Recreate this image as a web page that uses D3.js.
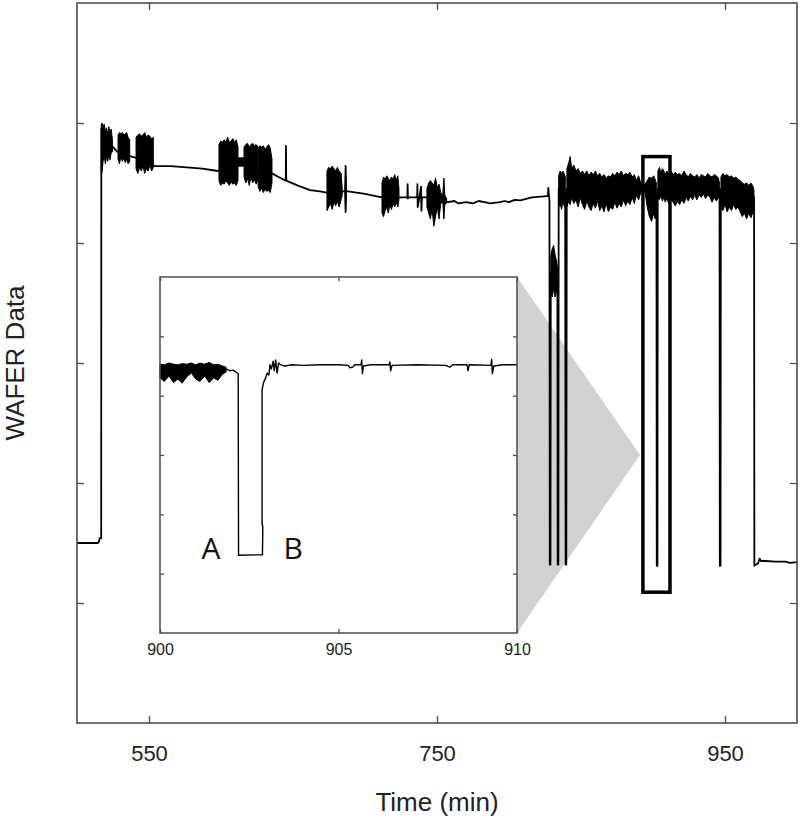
<!DOCTYPE html>
<html>
<head>
<meta charset="utf-8">
<script src="https://cdn.jsdelivr.net/npm/d3@7"></script>
<style>
body { margin: 0; background: #fff; }
svg { display: block; font-family: "Liberation Sans", Arial, sans-serif; }
</style>
</head>
<body>
<div id="main"></div>
<script>
// ---- data (time in min, wafer signal in axis units) ----
var xTicks = [550, 750, 950];
var yTicks = [1, 2, 3, 4, 5];
var insetXTicks = [900, 905, 910];
var insetYTicks = [1, 2, 3, 4, 5];

// slow baseline of the main run, with the drop-outs
var mainTrace = [
  [500, 1.50], [514.5, 1.50], [515.2, 1.51], [515.8, 1.54], [516.8, 1.54], [516.9, 4.95],
  [517.5, 4.75], [519, 4.8], [521, 4.78], [523, 4.82], [524.3, 4.81], [528, 4.76],
  [534.7, 4.73], [541, 4.71], [548, 4.68], [554.2, 4.64], [565, 4.64], [576.2, 4.63],
  [587, 4.62], [597.9, 4.60], [605, 4.66], [613.2, 4.68], [617, 4.67], [625, 4.62],
  [635.4, 4.58], [640, 4.55], [645, 4.52], [645.1, 4.81], [645.3, 4.52], [653, 4.48],
  [661.8, 4.44], [668.7, 4.43], [673.4, 4.42], [680, 4.43], [688.2, 4.43], [700, 4.41],
  [711.6, 4.38], [718, 4.38], [724, 4.38], [729.4, 4.38], [729.6, 4.49], [729.8, 4.37],
  [730, 4.38], [736.2, 4.38], [736.4, 4.49], [736.6, 4.30], [737.5, 4.36], [738.9, 4.47],
  [739.2, 4.27], [739.5, 4.38], [743, 4.38], [750, 4.37], [757.6, 4.34], [762, 4.35],
  [765, 4.33], [770, 4.34], [775, 4.33], [779, 4.35], [783, 4.34], [787, 4.33],
  [793.7, 4.34], [797, 4.35], [800, 4.34], [804, 4.36], [808, 4.355], [812.5, 4.37],
  [816, 4.38], [820, 4.385], [826.4, 4.39], [827.0, 4.39], [827.3, 4.46], [827.7, 4.40],
  [828.1, 4.36], [828.3, 1.32], [828.8, 1.32], [829.0, 3.75], [830, 3.7], [831.5, 3.75],
  [833.2, 3.7], [833.6, 3.65], [833.8, 1.32], [834.3, 1.32], [834.5, 4.45], [836.5, 4.45],
  [839.0, 4.42], [839.3, 1.32], [839.8, 1.32], [840.1, 4.45], [860, 4.45], [880, 4.45],
  [902.4, 4.42], [902.6, 1.31], [903.1, 1.31], [903.3, 4.45], [925, 4.46], [946.2, 4.44],
  [946.4, 1.31], [946.9, 1.31], [947.1, 4.45], [960, 4.42], [970.2, 4.38], [970.4, 1.31],
  [971.5, 1.32], [973, 1.33], [974, 1.37], [975, 1.35], [978, 1.35], [985, 1.345],
  [992, 1.345], [995, 1.335], [1000, 1.34]
];

// noisy bursts of the main run: [time, low, high]
var mainBursts = [
  [[516.8, 4.6, 4.98], [517.4, 4.59, 5.0], [518.1, 4.68, 4.97], [518.9, 4.72, 4.99], [519.7, 4.66, 4.93],
   [520.5, 4.72, 4.96], [521.3, 4.68, 4.9], [522.1, 4.74, 4.97], [522.9, 4.69, 4.91], [523.7, 4.75, 4.95], [524.6, 4.76, 4.86]],
  [[528.5, 4.7, 4.9], [529.5, 4.66, 4.92], [530.5, 4.72, 4.91], [531.5, 4.68, 4.92], [532.5, 4.71, 4.9],
   [533.5, 4.67, 4.91], [534.5, 4.7, 4.92], [535.5, 4.66, 4.88], [536.6, 4.68, 4.86]],
  [[541, 4.62, 4.88], [542.2, 4.58, 4.9], [543.4, 4.63, 4.91], [544.6, 4.6, 4.89], [545.8, 4.64, 4.9],
   [547, 4.58, 4.92], [548.2, 4.62, 4.88], [549.4, 4.6, 4.9], [550.6, 4.65, 4.89], [551.8, 4.6, 4.87], [553, 4.63, 4.88]],
  [[598.6, 4.52, 4.82], [599.8, 4.48, 4.85], [601, 4.5, 4.84], [602.2, 4.49, 4.86], [603.4, 4.52, 4.84], [604.6, 4.5, 4.88],
   [605.8, 4.48, 4.84], [607, 4.51, 4.85], [608.2, 4.49, 4.87], [609.4, 4.5, 4.84], [610.6, 4.48, 4.86], [611.8, 4.52, 4.8]],
  [[612, 4.64, 4.71], [615.6, 4.64, 4.71]],
  [[616, 4.55, 4.8], [617.2, 4.5, 4.82], [618.4, 4.54, 4.83], [619.6, 4.48, 4.8], [620.8, 4.55, 4.82],
   [622, 4.5, 4.83], [623.2, 4.53, 4.81], [624.4, 4.49, 4.82], [625.6, 4.52, 4.8]],
  [[625.8, 4.47, 4.79], [627, 4.43, 4.81], [628.2, 4.46, 4.8], [629.4, 4.42, 4.81], [630.6, 4.45, 4.78],
   [631.8, 4.43, 4.8], [633, 4.44, 4.82], [634.2, 4.42, 4.79], [635.4, 4.5, 4.7]],
  [[673.6, 4.27, 4.6], [674.8, 4.3, 4.63], [676, 4.33, 4.62], [677.2, 4.28, 4.64], [678.4, 4.34, 4.62],
   [679.6, 4.31, 4.6], [680.8, 4.35, 4.63], [682, 4.3, 4.6], [683.4, 4.36, 4.58], [684.2, 4.4, 4.45]],
  [[685.9, 4.42, 4.44], [686.3, 4.25, 4.65], [686.8, 4.26, 4.64], [687.2, 4.42, 4.44]],
  [[711.8, 4.25, 4.5], [712.9, 4.22, 4.55], [714, 4.27, 4.53], [715.1, 4.3, 4.56], [716.2, 4.25, 4.54], [717.3, 4.32, 4.52],
   [718.4, 4.28, 4.55], [719.5, 4.33, 4.53], [720.6, 4.3, 4.57], [721.7, 4.34, 4.52], [722.8, 4.3, 4.56], [723.6, 4.36, 4.45]],
  [[743, 4.3, 4.45], [744.2, 4.25, 4.5], [745.4, 4.2, 4.52], [746.6, 4.28, 4.5], [747.8, 4.14, 4.48], [749, 4.22, 4.54],
   [750.2, 4.3, 4.46], [751.4, 4.2, 4.49], [752.6, 4.33, 4.42], [754, 4.34, 4.4], [754.8, 4.2, 4.54], [755.4, 4.32, 4.4], [756.7, 4.33, 4.37]],
  [[829.1, 3.6, 3.9], [830, 3.55, 3.95], [831, 3.62, 3.98], [832, 3.55, 3.9], [833, 3.6, 3.85], [833.6, 3.65, 3.8]],
  [[834.5, 4.3, 4.56], [835.5, 4.33, 4.6], [836.5, 4.28, 4.58], [837.5, 4.35, 4.6], [838.5, 4.3, 4.57], [839.1, 4.35, 4.55]],
  [[840.2, 4.3, 4.62], [841.5, 4.35, 4.67], [842.5, 4.32, 4.72], [843.5, 4.38, 4.62], [845, 4.33, 4.65], [846.5, 4.36, 4.6],
   [848, 4.3, 4.62], [849.5, 4.38, 4.58], [851, 4.32, 4.6], [852.5, 4.28, 4.57], [854, 4.35, 4.6], [855.5, 4.3, 4.56],
   [857, 4.27, 4.59], [858.5, 4.33, 4.57], [860, 4.29, 4.6], [861.5, 4.35, 4.56], [863, 4.27, 4.58], [864.5, 4.31, 4.55],
   [866, 4.26, 4.57], [867.5, 4.33, 4.54], [869, 4.26, 4.56], [870.5, 4.3, 4.55], [872, 4.28, 4.58], [873.5, 4.34, 4.56],
   [875, 4.29, 4.59], [876.5, 4.33, 4.57], [878, 4.3, 4.6], [879.5, 4.36, 4.56], [881, 4.31, 4.58], [882.5, 4.35, 4.57],
   [884, 4.32, 4.59], [885.5, 4.38, 4.55], [887, 4.33, 4.57], [888.5, 4.4, 4.52], [890, 4.36, 4.56], [891.5, 4.42, 4.5],
   [893, 4.43, 4.47], [894.5, 4.42, 4.49], [896, 4.3, 4.52], [897.5, 4.22, 4.55], [899, 4.18, 4.54], [900.5, 4.25, 4.56],
   [901.5, 4.2, 4.53], [902.3, 4.3, 4.5]],
  [[903.4, 4.38, 4.6], [904.5, 4.36, 4.63], [905.5, 4.4, 4.58], [906.5, 4.35, 4.62], [907.5, 4.38, 4.6], [908.5, 4.34, 4.57],
   [909.5, 4.37, 4.6], [911, 4.33, 4.58], [912.5, 4.36, 4.6], [914, 4.34, 4.57], [915.5, 4.31, 4.59], [917, 4.35, 4.57],
   [918.5, 4.32, 4.58], [920, 4.36, 4.56], [921.5, 4.33, 4.6], [923, 4.38, 4.57], [924.5, 4.35, 4.55], [926, 4.39, 4.58],
   [927.5, 4.36, 4.56], [929, 4.4, 4.55], [930.5, 4.36, 4.57], [932, 4.4, 4.54], [933.5, 4.38, 4.57], [935, 4.41, 4.56],
   [936.5, 4.37, 4.55], [938, 4.4, 4.58], [939.5, 4.38, 4.56], [941, 4.34, 4.55], [942.5, 4.38, 4.57], [944, 4.35, 4.56],
   [945.5, 4.38, 4.54], [946.1, 4.4, 4.5]],
  [[947.2, 4.3, 4.55], [948.5, 4.27, 4.58], [950, 4.32, 4.56], [951.5, 4.26, 4.57], [953, 4.3, 4.55], [954.5, 4.27, 4.56],
   [956, 4.32, 4.54], [957.5, 4.28, 4.55], [959, 4.3, 4.53], [960.5, 4.26, 4.52], [962, 4.22, 4.5], [963.5, 4.25, 4.49],
   [965, 4.2, 4.5], [966.5, 4.25, 4.48], [968, 4.21, 4.5], [969.5, 4.26, 4.47], [970.1, 4.3, 4.44]]
];

// zoomed window 900-910 min
var insetTrace = [
  [900, 4.45], [901.85, 4.45], [901.95, 4.42], [902.05, 4.43], [902.12, 4.40], [902.19, 4.37],
  [902.2, 1.31], [902.87, 1.32], [902.88, 1.8], [902.86, 1.82], [902.86, 4.1], [902.9, 4.22],
  [902.96, 4.3], [903.0, 4.38], [903.05, 4.35], [903.08, 4.52], [903.12, 4.45], [903.17, 4.58],
  [903.2, 4.42], [903.24, 4.6], [903.28, 4.38], [903.32, 4.55], [903.38, 4.52], [903.5, 4.5],
  [903.7, 4.52], [904.0, 4.51], [904.5, 4.52], [905.0, 4.52], [905.27, 4.51], [905.32, 4.47],
  [905.4, 4.48], [905.45, 4.52], [905.63, 4.52], [905.65, 4.6], [905.67, 4.37], [905.7, 4.5],
  [905.9, 4.52], [906.42, 4.52], [906.44, 4.57], [906.46, 4.42], [906.5, 4.51], [907.2, 4.52],
  [908.0, 4.51], [908.12, 4.48], [908.2, 4.52], [908.6, 4.52], [908.63, 4.42], [908.66, 4.52],
  [909.27, 4.51], [909.29, 4.61], [909.31, 4.37], [909.35, 4.5], [909.6, 4.52], [910, 4.52]
];
var insetBursts = [
  [[900.0, 4.3, 4.53], [900.12, 4.24, 4.52], [900.25, 4.33, 4.55], [900.38, 4.22, 4.53], [900.5, 4.28, 4.52],
   [900.62, 4.21, 4.54], [900.75, 4.32, 4.53], [900.88, 4.38, 4.55], [901.0, 4.28, 4.52], [901.12, 4.24, 4.55],
   [901.25, 4.33, 4.53], [901.38, 4.22, 4.56], [901.5, 4.3, 4.52], [901.62, 4.26, 4.53], [901.75, 4.36, 4.5], [901.85, 4.4, 4.48]]
];
var insetLabels = [{t: 901.43, v: 1.24, text: 'A'}, {t: 903.73, v: 1.24, text: 'B'}];

// highlighted window on the main run: t0, t1, vLow, vHigh
var zoomWindow = [893, 911.8, 1.09, 4.72];

// ---- layout ----
var W = 800, H = 823;
var frame = {left: 77, right: 797, top: 3, bottom: 723};
var box = {left: 160, right: 517, top: 277, bottom: 633};
var axisColor = '#4d4d4d';

var svg = d3.select('#main').append('svg')
  .attr('width', W)
  .attr('height', H);

var x = d3.scaleLinear().domain([500, 1000]).range([frame.left, frame.right]);
var y = d3.scaleLinear().domain([0, 6]).range([frame.bottom, frame.top]);
var xi = d3.scaleLinear().domain([900, 910]).range([box.left, box.right]);
var yi = d3.scaleLinear().domain([0, 6]).range([box.bottom, box.top]);

// grey zoom wedge
var apex = [x(zoomWindow[0]) - 3, (box.top + box.bottom) / 2];
svg.append('path')
  .attr('d', 'M' + box.right + ',' + box.top + 'L' + apex[0] + ',' + apex[1] + 'L' + box.right + ',' + box.bottom + 'Z')
  .attr('fill', '#d2d2d2');

// main run
var burstArea = d3.area()
  .x(function(d) { return x(d[0]); })
  .y0(function(d) { return y(d[1]); })
  .y1(function(d) { return y(d[2]); });

svg.selectAll('.burst').data(mainBursts).enter().append('path')
  .attr('class', 'burst')
  .attr('d', burstArea)
  .attr('fill', '#000')
  .attr('stroke', '#000')
  .attr('stroke-width', 1);

var line = d3.line()
  .x(function(d) { return x(d[0]); })
  .y(function(d) { return y(d[1]); });

svg.append('path')
  .datum(mainTrace)
  .attr('d', line)
  .attr('fill', 'none')
  .attr('stroke', '#000')
  .attr('stroke-width', 1.8)
  .attr('stroke-linejoin', 'round');

// highlight box
svg.append('rect')
  .attr('x', x(zoomWindow[0]))
  .attr('y', y(zoomWindow[3]))
  .attr('width', x(zoomWindow[1]) - x(zoomWindow[0]))
  .attr('height', y(zoomWindow[2]) - y(zoomWindow[3]))
  .attr('fill', 'none')
  .attr('stroke', '#000')
  .attr('stroke-width', 3.5);

// main axes (ticks point inward, box style)
function styleAxis(g, fontSize) {
  g.select('.domain').remove();
  g.selectAll('line').attr('stroke', axisColor).attr('stroke-width', 1.3);
  g.selectAll('text').attr('fill', '#222').style('font-size', fontSize + 'px');
}

svg.append('g')
  .attr('transform', 'translate(0,' + frame.bottom + ')')
  .call(d3.axisBottom(x).tickValues(xTicks).tickSizeInner(-7).tickSizeOuter(0).tickPadding(22))
  .call(styleAxis, 22);
svg.append('g')
  .attr('transform', 'translate(0,' + frame.top + ')')
  .call(d3.axisTop(x).tickValues(xTicks).tickSizeInner(-7).tickSizeOuter(0).tickFormat(''))
  .call(styleAxis, 22);
svg.append('g')
  .attr('transform', 'translate(' + frame.left + ',0)')
  .call(d3.axisLeft(y).tickValues(yTicks).tickSizeInner(-7).tickSizeOuter(0).tickFormat(''))
  .call(styleAxis, 22);
svg.append('g')
  .attr('transform', 'translate(' + frame.right + ',0)')
  .call(d3.axisRight(y).tickValues(yTicks).tickSizeInner(-7).tickSizeOuter(0).tickFormat(''))
  .call(styleAxis, 22);

svg.append('rect')
  .attr('x', frame.left)
  .attr('y', frame.top)
  .attr('width', frame.right - frame.left)
  .attr('height', frame.bottom - frame.top)
  .attr('fill', 'none')
  .attr('stroke', axisColor)
  .attr('stroke-width', 1.6);

svg.append('text')
  .attr('x', (frame.left + frame.right) / 2)
  .attr('y', 811)
  .attr('text-anchor', 'middle')
  .attr('fill', '#222')
  .style('font-size', '26px')
  .text('Time (min)');

svg.append('text')
  .attr('transform', 'translate(24,' + (frame.top + frame.bottom) / 2 + ') rotate(-90)')
  .attr('text-anchor', 'middle')
  .attr('fill', '#222')
  .style('font-size', '26px')
  .text('WAFER Data');

// ---- inset ----
var insetG = svg.append('g');
insetG.append('rect')
  .attr('x', box.left)
  .attr('y', box.top)
  .attr('width', box.right - box.left)
  .attr('height', box.bottom - box.top)
  .attr('fill', '#fff');

var insetArea = d3.area()
  .x(function(d) { return xi(d[0]); })
  .y0(function(d) { return yi(d[1]); })
  .y1(function(d) { return yi(d[2]); });

insetG.selectAll('.iburst').data(insetBursts).enter().append('path')
  .attr('class', 'iburst')
  .attr('d', insetArea)
  .attr('fill', '#000')
  .attr('stroke', '#000')
  .attr('stroke-width', 1);

insetG.append('path')
  .datum(insetTrace)
  .attr('d', d3.line()
    .x(function(d) { return xi(d[0]); })
    .y(function(d) { return yi(d[1]); }))
  .attr('fill', 'none')
  .attr('stroke', '#000')
  .attr('stroke-width', 1.4)
  .attr('stroke-linejoin', 'round');

insetG.append('g')
  .attr('transform', 'translate(0,' + box.bottom + ')')
  .call(d3.axisBottom(xi).tickValues(insetXTicks).tickSizeInner(-4).tickSizeOuter(0).tickPadding(11))
  .call(styleAxis, 16);
insetG.append('g')
  .attr('transform', 'translate(0,' + box.top + ')')
  .call(d3.axisTop(xi).tickValues(insetXTicks).tickSizeInner(-4).tickSizeOuter(0).tickFormat(''))
  .call(styleAxis, 16);
insetG.append('g')
  .attr('transform', 'translate(' + box.left + ',0)')
  .call(d3.axisLeft(yi).tickValues(insetYTicks).tickSizeInner(-4).tickSizeOuter(0).tickFormat(''))
  .call(styleAxis, 16);
insetG.append('g')
  .attr('transform', 'translate(' + box.right + ',0)')
  .call(d3.axisRight(yi).tickValues(insetYTicks).tickSizeInner(-4).tickSizeOuter(0).tickFormat(''))
  .call(styleAxis, 16);

insetG.append('rect')
  .attr('x', box.left)
  .attr('y', box.top)
  .attr('width', box.right - box.left)
  .attr('height', box.bottom - box.top)
  .attr('fill', 'none')
  .attr('stroke', axisColor)
  .attr('stroke-width', 1.5);

insetG.selectAll('.lbl').data(insetLabels).enter().append('text')
  .attr('class', 'lbl')
  .attr('x', function(d) { return xi(d.t); })
  .attr('y', function(d) { return yi(d.v); })
  .attr('text-anchor', 'middle')
  .attr('fill', '#111')
  .style('font-family', '"Open Sans", "Noto Sans", sans-serif')
  .style('font-size', '30px')
  .text(function(d) { return d.text; });
</script>
</body>
</html>
